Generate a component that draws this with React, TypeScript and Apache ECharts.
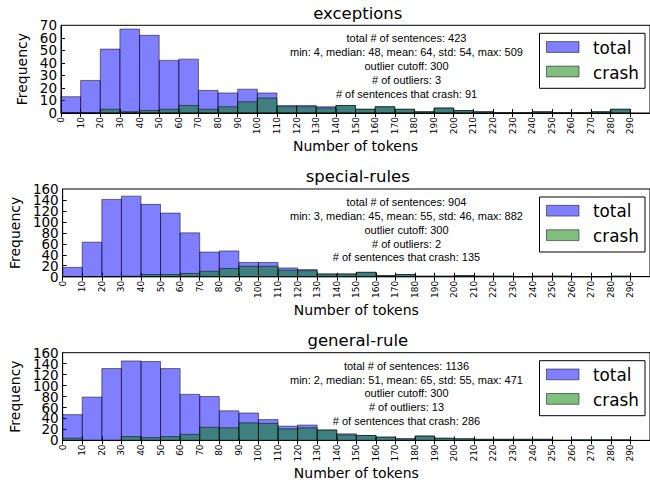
import React, { useEffect, useRef } from "react";
import * as echarts from "echarts";

// ---- data ----
const BIN_STARTS = [0, 10, 20, 30, 40, 50, 60, 70, 80, 90, 100, 110, 120, 130, 140, 150, 160, 170, 180, 190, 200, 210, 220, 230, 240, 250, 260, 270, 280];
const BIN_WIDTH = 10;

const PANEL_TITLES = ["exceptions", "special-rules", "general-rule"];

const exceptionsTotal = [13, 26, 51, 67, 62, 42, 43, 18, 16, 19, 16, 6, 6, 5, 6, 3, 5, 3, 1, 4, 2, 1, 0, 0, 1, 0, 0, 1, 3];
const exceptionsCrash = [0, 0, 3, 1, 2, 3, 6, 3, 5, 9, 12, 5, 5, 4, 6, 3, 5, 3, 1, 4, 2, 1, 0, 0, 1, 0, 0, 1, 3];

const specialTotal = [17, 63, 141, 147, 132, 116, 80, 45, 47, 26, 26, 16, 13, 5, 5, 8, 2, 4, 1, 1, 2, 1, 1, 0, 1, 1, 0, 0, 1];
const specialCrash = [0, 0, 0, 1, 4, 4, 6, 10, 15, 19, 19, 12, 11, 5, 5, 8, 2, 4, 1, 1, 2, 1, 1, 0, 1, 1, 0, 0, 1];

const generalTotal = [47, 79, 131, 145, 144, 131, 84, 80, 54, 50, 38, 26, 28, 19, 12, 9, 6, 3, 8, 4, 3, 2, 2, 2, 2, 0, 1, 1, 1];
const generalCrash = [4, 0, 0, 7, 5, 7, 11, 24, 23, 32, 31, 21, 23, 19, 10, 9, 6, 3, 8, 4, 3, 2, 2, 2, 2, 0, 1, 1, 1];

const exceptionsStats = [
  "total # of sentences: 423",
  "min: 4, median: 48, mean: 64, std: 54, max: 509",
  "outlier cutoff: 300",
  "# of outliers: 3",
  "# of sentences that crash: 91",
];
const specialStats = [
  "total # of sentences: 904",
  "min: 3, median: 45, mean: 55, std: 46, max: 882",
  "outlier cutoff: 300",
  "# of outliers: 2",
  "# of sentences that crash: 135",
];
const generalStats = [
  "total # of sentences: 1136",
  "min: 2, median: 51, mean: 65, std: 55, max: 471",
  "outlier cutoff: 300",
  "# of outliers: 13",
  "# of sentences that crash: 286",
];

const Y_MAX = [70, 160, 160];
const Y_INTERVAL = [10, 20, 20];
const X_MIN = 0;
const X_MAX = 300;
const X_INTERVAL = 10;
const LEGEND_NAMES = ["total", "crash"];
const X_NAME = "Number of tokens";
const Y_NAME = "Frequency";

// ---- layout ----
const W = 650;
const H = 486;
const GRID_LEFT = 61;
const GRID_RIGHT = -4.7;
const GRID_TOPS = [25.3, 189, 352.7];
const GRID_H = 87.7;
const CENTER_X = 357.8;

const TOTAL_FILL = "rgba(0,0,255,0.5)";
const CRASH_FILL = "rgba(0,128,0,0.5)";
const EDGE = "rgba(0,0,0,0.5)";
const FONT = "'DejaVu Sans', sans-serif";
const STAT_FONT = "'Liberation Sans', Arial, sans-serif";

const panels = [
  { total: exceptionsTotal, crash: exceptionsCrash, stats: exceptionsStats },
  { total: specialTotal, crash: specialCrash, stats: specialStats },
  { total: generalTotal, crash: generalCrash, stats: generalStats },
];

function barRenderer(fill: string) {
  return (_params: any, api: any) => {
    const start = api.value(0);
    const v = api.value(1);
    const p0 = api.coord([start, 0]);
    const p1 = api.coord([start + BIN_WIDTH, v]);
    return {
      type: "rect",
      shape: { x: p0[0], y: p1[1], width: p1[0] - p0[0], height: p0[1] - p1[1] },
      style: { fill, stroke: EDGE, lineWidth: 1 },
    };
  };
}

const yLabelStyle = { fontSize: 13.5, color: "#000", margin: 4, fontFamily: FONT };

export default function App() {
  const ref = useRef<HTMLDivElement>(null);

  useEffect(() => {
    if (!ref.current) return;
    const chart = echarts.init(ref.current, null, { renderer: "svg" });

    const grid: any[] = [];
    const xAxis: any[] = [];
    const yAxis: any[] = [];
    const series: any[] = [];
    const title: any[] = [];
    const graphic: any[] = [];

    panels.forEach((p, i) => {
      const top = GRID_TOPS[i];
      grid.push({
        left: GRID_LEFT,
        right: GRID_RIGHT,
        top,
        height: GRID_H,
        show: true,
        borderColor: "#000",
        borderWidth: 1,
        backgroundColor: "transparent",
        containLabel: false,
      });
      xAxis.push({
        type: "value",
        gridIndex: i,
        position: "bottom",
        min: X_MIN,
        max: X_MAX,
        interval: X_INTERVAL,
        axisLine: { show: true, onZero: false, lineStyle: { color: "#000", width: 1 } },
        axisTick: { show: true, inside: true, length: 4, lineStyle: { color: "#000" } },
        axisLabel: {
          rotate: 90,
          fontSize: 9,
          color: "#000",
          margin: 4,
          fontFamily: FONT,
          showMinLabel: true,
          formatter: (v: number) => (v >= X_MAX ? "" : String(v)),
        },
        splitLine: { show: false },
        name: X_NAME,
        nameLocation: "middle",
        nameGap: 26,
        nameTextStyle: { fontSize: 14, color: "#000", fontFamily: FONT },
      });
      xAxis.push({
        type: "value",
        gridIndex: i,
        position: "top",
        min: X_MIN,
        max: X_MAX,
        interval: X_INTERVAL,
        axisLine: { show: false },
        axisTick: { show: true, inside: true, length: 4, lineStyle: { color: "#000" } },
        axisLabel: { show: false },
        splitLine: { show: false },
      });
      // main y axis: ticks every step, inner labels
      yAxis.push({
        type: "value",
        gridIndex: i,
        position: "left",
        min: 0,
        max: Y_MAX[i],
        interval: Y_INTERVAL[i],
        axisLine: { show: true, onZero: false, lineStyle: { color: "#000", width: 1 } },
        axisTick: { show: true, inside: true, length: 4, lineStyle: { color: "#000" } },
        axisLabel: { ...yLabelStyle, showMinLabel: false, showMaxLabel: false, hideOverlap: false },
        splitLine: { show: false },
        name: Y_NAME,
        nameLocation: "middle",
        nameRotate: 90,
        nameGap: 28.5,
        nameTextStyle: { fontSize: 14, color: "#000", fontFamily: FONT },
      });
      // companion y axis: end labels (0 and max)
      yAxis.push({
        type: "value",
        gridIndex: i,
        position: "left",
        offset: 0,
        min: 0,
        max: Y_MAX[i],
        interval: Y_MAX[i],
        axisLine: { show: false },
        axisTick: { show: false },
        axisLabel: { ...yLabelStyle, showMinLabel: true, showMaxLabel: true },
        splitLine: { show: false },
      });
      series.push({
        type: "custom",
        name: LEGEND_NAMES[0],
        xAxisIndex: 2 * i,
        yAxisIndex: 2 * i,
        renderItem: barRenderer(TOTAL_FILL),
        encode: { x: 0, y: 1 },
        data: BIN_STARTS.map((s, k) => [s, p.total[k]]),
        z: 2,
      });
      series.push({
        type: "custom",
        name: LEGEND_NAMES[1],
        xAxisIndex: 2 * i,
        yAxisIndex: 2 * i,
        renderItem: barRenderer(CRASH_FILL),
        encode: { x: 0, y: 1 },
        data: BIN_STARTS.map((s, k) => [s, p.crash[k]]),
        z: 3,
      });
      title.push({
        text: PANEL_TITLES[i],
        left: CENTER_X,
        top: top - 20.7,
        textAlign: "center",
        padding: 0,
        textStyle: { fontSize: 16.5, fontWeight: "normal", color: "#000", fontFamily: FONT },
      });
      // stats annotation
      p.stats.forEach((line, j) => {
        graphic.push({
          type: "text",
          x: 406.5,
          y: top + 13.1 + j * 13.8,
          z: 100,
          style: {
            text: line,
            fill: "#000",
            font: `11px ${STAT_FONT}`,
            textAlign: "center",
            textVerticalAlign: "middle",
          },
        });
      });
      // legend
      graphic.push({
        type: "rect",
        z: 100,
        shape: { x: 539.5, y: top + 8, width: 105.5, height: 55 },
        style: { fill: "#fff", stroke: "#000", lineWidth: 1 },
      });
      [TOTAL_FILL, CRASH_FILL].forEach((fill, j) => {
        graphic.push({
          type: "rect",
          z: 101,
          shape: { x: 546.5, y: top + 16.3 + j * 24.5, width: 32.5, height: 10.8 },
          style: { fill, stroke: EDGE, lineWidth: 1 },
        });
        graphic.push({
          type: "text",
          z: 101,
          x: 593,
          y: top + 22.2 + j * 25,
          style: {
            text: LEGEND_NAMES[j],
            fill: "#000",
            font: `16.8px ${FONT}`,
            textAlign: "left",
            textVerticalAlign: "middle",
          },
        });
      });
    });

    chart.setOption({
      animation: false,
      backgroundColor: "#fff",
      textStyle: { fontFamily: FONT },
      title,
      grid,
      xAxis,
      yAxis,
      series,
      graphic,
    });

    return () => chart.dispose();
  }, []);

  return (
    <div
      ref={ref}
      style={{ position: "fixed", left: 0, top: 0, width: W, height: H, overflow: "hidden" }}
    />
  );
}
